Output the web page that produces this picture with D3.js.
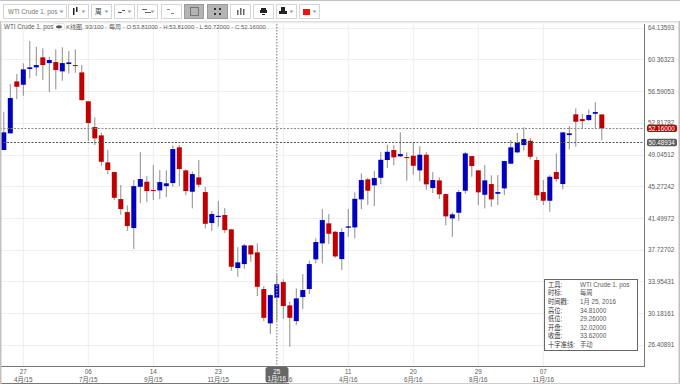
<!DOCTYPE html>
<html>
<head>
<meta charset="utf-8">
<script src="https://cdn.jsdelivr.net/npm/d3@7"></script>
<style>
  html, body { margin: 0; padding: 0; background: #fff; overflow: hidden; }
  text { font-family: "Liberation Sans", "Noto Sans CJK SC", sans-serif; }
</style>
</head>
<body>
<div id="chart"></div>
<script>
// weekly candles
const highs = [54.13,57.43,58.61,59.88,62.54,61.86,61.67,60.67,61.55,61.79,61.35,61.55,59.68,55.40,53.46,51.63,49.58,46.96,45.41,43.00,46.01,49.34,46.48,47.79,47.20,47.16,50.13,50.17,47.28,47.04,48.39,45.17,42.32,43.51,42.68,40.18,38.04,38.40,38.28,38.48,33.40,32.45,34.81,34.20,31.54,33.13,34.83,36.41,39.08,42.56,41.97,39.94,40.26,42.56,44.55,46.80,46.28,47.08,49.37,50.20,50.17,51.68,49.30,50.44,50.05,49.34,46.96,46.33,44.43,42.17,44.82,49.37,48.86,47.20,47.79,46.57,46.60,48.30,50.76,51.63,52.27,51.00,48.78,46.01,46.60,49.18,51.75,52.43,54.53,53.86,54.41,55.25,53.81];
const lows = [49.58,51.56,55.64,56.03,58.10,58.37,57.90,56.47,56.79,57.81,58.69,58.77,55.40,50.65,50.17,47.71,46.72,43.63,41.88,39.94,37.80,43.27,43.39,43.63,43.75,43.99,45.21,45.29,44.22,42.64,45.14,40.26,39.98,40.46,39.71,35.22,34.51,35.46,36.29,32.22,29.24,27.70,29.26,29.52,26.19,28.80,30.67,32.45,36.10,36.10,38.40,36.77,35.31,39.27,39.08,42.56,43.04,42.92,45.53,47.43,47.76,48.74,45.93,46.64,45.85,44.85,44.46,43.75,40.62,39.27,41.17,44.38,46.40,43.04,42.64,42.83,43.04,44.22,47.91,49.18,49.49,48.47,43.63,43.04,42.24,45.81,44.90,49.66,49.97,52.16,53.06,52.16,50.72];
const opens = [49.58,51.56,57.74,57.34,59.21,59.41,60.60,59.92,60.04,58.93,59.80,59.68,58.81,55.37,52.31,51.32,48.11,46.96,43.75,42.20,40.30,45.21,45.81,44.82,44.78,45.29,45.65,49.90,47.16,44.62,46.33,44.58,40.90,41.61,41.85,40.15,35.55,36.02,38.24,37.41,33.05,28.97,32.02,33.88,31.11,29.24,32.10,33.05,36.58,38.48,40.86,39.86,36.61,40.34,40.38,43.71,46.09,45.38,46.28,48.39,49.58,48.83,48.74,48.90,47.16,49.02,45.06,45.97,44.34,41.45,42.12,44.74,48.86,47.16,44.26,45.53,44.38,45.02,47.95,49.30,50.17,50.68,48.39,44.58,43.55,46.96,45.53,51.36,53.82,53.26,53.14,53.89,53.81];
const closes = [51.68,55.76,57.10,59.17,59.41,59.68,59.68,60.28,59.09,59.92,60.00,59.56,55.52,52.79,50.97,48.18,47.20,43.90,42.56,40.54,45.29,46.13,44.70,44.70,45.77,45.62,49.69,47.32,44.70,46.72,45.45,40.81,41.97,41.76,40.06,35.70,36.22,38.24,37.17,33.32,29.63,32.33,33.62,31.03,29.63,31.94,32.93,36.02,38.64,41.25,39.62,36.93,39.83,40.50,43.78,46.01,44.74,46.25,48.42,49.37,48.71,49.10,48.62,47.71,49.02,45.50,46.01,44.31,41.69,41.93,44.58,49.18,47.67,44.55,45.97,43.71,44.58,48.27,49.90,50.41,50.88,48.78,44.19,43.55,46.40,46.13,51.68,51.56,52.94,53.02,53.74,54.09,52.16];

const priceTicks = [64.13593,60.36323,56.59053,52.81782,49.04512,45.27242,41.49972,37.72702,33.95431,30.18161,26.40891];
const dateTicks = [3,13,23,33,43,53,63,73,83];
const dayLabels = ['27','06','14','23','01','11','20','29','07'];
const monthLabels = ['4月/15','7月/15','9月/15','11月/15','2月/16','4月/16','6月/16','8月/16','11月/16'];

const lastPrice = 52.16;
const crossPrice = 50.48934;
const crossIndex = 42;
const crossDay = '25';
const crossMonth = '1月/16';

const infoLabels = ['工具:','时标:','时间戳:','高位:','低位:','开盘:','收盘:','十字准线:'];
const infoValues = ['WTI Crude 1. pos','每周','1月 25, 2016','34.81000','29.26000','32.02000','33.62000','手动'];

const legendName = 'WTI Crude 1. pos';
const legendType = 'K线图, 93/100 - 每周 -';
const legendValues = 'O:53.81000 - H:53.81000 - L:50.72000 - C:52.16000';

const width = 680, height = 384;
const plotRight = 644, plotBottom = 367;
const labelSize = 6.3;
const colors = { up: '#0000bf', down: '#c00000', wick: '#8c8c8c', grid: '#eeeeee', axis: '#777777', text: '#5a5a5a' };

const svg = d3.select('#chart').append('svg')
  .attr('width', width)
  .attr('height', height)
  .style('display', 'block');

const x = d3.scaleLinear().domain([0, highs.length - 1]).range([3.8, 601.8]);
const y = d3.scaleLinear().domain([26.40891, 64.13593]).range([344.9, 27.6]);

// gridlines and axes
const yAxis = d3.axisRight(y).tickValues(priceTicks).tickSize(0).tickPadding(4).tickFormat(d3.format('.5f'));
const gy = svg.append('g').attr('transform', `translate(${plotRight},0)`).call(yAxis);
gy.select('.domain').remove();
gy.selectAll('text').attr('font-size', labelSize).attr('fill', colors.text).attr('font-family', null);

svg.append('g').selectAll('line').data(priceTicks).join('line')
  .attr('x1', 0).attr('x2', plotRight)
  .attr('y1', d => Math.round(y(d)) + 0.5).attr('y2', d => Math.round(y(d)) + 0.5)
  .attr('stroke', colors.grid);
svg.append('g').selectAll('line').data(dateTicks).join('line')
  .attr('x1', d => x(d)).attr('x2', d => x(d))
  .attr('y1', 22).attr('y2', plotBottom)
  .attr('stroke', colors.grid);

// date labels
const dates = svg.append('g').selectAll('g').data(dateTicks).join('g')
  .attr('transform', d => `translate(${x(d)},0)`);
dates.append('text').attr('y', 374).attr('text-anchor', 'middle').attr('font-size', labelSize).attr('fill', colors.text)
  .text((d, i) => dayLabels[i]);
dates.append('text').attr('y', 381.5).attr('text-anchor', 'middle').attr('font-size', labelSize).attr('fill', colors.text)
  .text((d, i) => monthLabels[i]);

// candles
const candles = svg.append('g').selectAll('g').data(highs.map((d, i) => i)).join('g');
candles.append('line')
  .attr('x1', i => x(i)).attr('x2', i => x(i))
  .attr('y1', i => y(highs[i])).attr('y2', i => y(lows[i]))
  .attr('stroke', colors.wick);
candles.append('rect')
  .attr('x', i => x(i) - 2.5)
  .attr('width', 5)
  .attr('y', i => y(Math.max(opens[i], closes[i])))
  .attr('height', i => Math.max(1, Math.abs(y(opens[i]) - y(closes[i]))))
  .attr('fill', i => closes[i] >= opens[i] ? colors.up : colors.down);

// price lines and crosshair
[lastPrice, crossPrice].forEach(p => {
  svg.append('line')
    .attr('x1', 0).attr('x2', plotRight)
    .attr('y1', Math.round(y(p)) + 0.5).attr('y2', Math.round(y(p)) + 0.5)
    .attr('stroke', p === lastPrice ? '#8a8a8a' : '#555555')
    .attr('stroke-dasharray', '2,1.5');
});
svg.append('line')
  .attr('x1', x(crossIndex)).attr('x2', x(crossIndex))
  .attr('y1', 21).attr('y2', plotBottom)
  .attr('stroke', '#9a9a9a').attr('stroke-width', 1.4).attr('stroke-dasharray', '1.5,1.5');

// axis frame
svg.append('line').attr('x1', plotRight + 0.5).attr('x2', plotRight + 0.5).attr('y1', 21).attr('y2', plotBottom).attr('stroke', colors.axis);
svg.append('line').attr('x1', 1).attr('x2', plotRight + 1).attr('y1', plotBottom - 0.5).attr('y2', plotBottom - 0.5).attr('stroke', colors.axis);
svg.append('line').attr('x1', 1).attr('x2', 289).attr('y1', 383.5).attr('y2', 383.5).attr('stroke', colors.axis);
svg.append('line').attr('x1', 289).attr('x2', 678).attr('y1', 383.5).attr('y2', 383.5).attr('stroke', '#cccccc');
svg.append('rect').attr('x', 0).attr('y', 0).attr('width', 1.5).attr('height', height).attr('fill', '#c4c0c0');
svg.append('rect').attr('x', 678.5).attr('y', 0).attr('width', 1.5).attr('height', height).attr('fill', '#c4c0c0');

// price badges
function priceBadge(p, fill) {
  const by = y(p);
  svg.append('rect').attr('x', 647).attr('y', by - 3.6).attr('width', 30).attr('height', 7.4).attr('rx', 2).attr('fill', fill);
  svg.append('text').attr('x', 648.5).attr('y', by + 2.3).attr('font-size', labelSize).attr('fill', '#fff').text(p.toFixed(5));
}
priceBadge(lastPrice, colors.down);
priceBadge(crossPrice, '#5c5c5c');

// date badge
svg.append('rect').attr('x', 265.5).attr('y', 367).attr('width', 23).attr('height', 15.5).attr('rx', 2.5).attr('fill', '#666666');
svg.append('text').attr('x', x(crossIndex)).attr('y', 374).attr('text-anchor', 'middle').attr('font-size', labelSize).attr('fill', '#fff').text(crossDay);
svg.append('text').attr('x', x(crossIndex)).attr('y', 381).attr('text-anchor', 'middle').attr('font-size', labelSize).attr('fill', '#fff').text(crossMonth);

// info box
svg.append('rect').attr('x', 544.5).attr('y', 279.5).attr('width', 93).attr('height', 71).attr('fill', '#fff').attr('stroke', '#666666');
const rowY = d3.scalePoint().domain(d3.range(infoLabels.length)).range([286.8, 347]);
infoLabels.forEach((label, i) => {
  svg.append('text').attr('x', 548).attr('y', rowY(i)).attr('font-size', labelSize).attr('fill', '#333').text(label);
  svg.append('text').attr('x', 580).attr('y', rowY(i)).attr('font-size', labelSize).attr('fill', colors.text).text(infoValues[i]);
});

// toolbar
const defs = svg.append('defs');
const fade = defs.append('linearGradient').attr('id', 'fade').attr('x1', 0).attr('x2', 0).attr('y1', 0).attr('y2', 1);
fade.append('stop').attr('offset', 0).attr('stop-color', '#d8d8d8');
fade.append('stop').attr('offset', 1).attr('stop-color', '#ffffff');
svg.append('rect').attr('x', 0).attr('y', 0).attr('width', width).attr('height', 21).attr('fill', '#fff');
svg.append('rect').attr('x', 0).attr('y', 0).attr('width', width).attr('height', 1).attr('fill', '#c4c0c0');
svg.append('rect').attr('x', 1).attr('y', 21).attr('width', 677).attr('height', 3).attr('fill', 'url(#fade)');

const buttonLefts = [3.5,68.5,91.5,114.5,137.5,161.5,184.5,207.5,230.5,253.5,276.5,299.5];
const buttonWidths = [63,20,20,20,20,20,19,20,20,20,20,20];
const pressed = [6, 7];
const arrowed = [0, 1, 2, 3, 4, 10, 11];
const buttons = svg.append('g').selectAll('g').data(buttonLefts).join('g')
  .attr('transform', d => `translate(${d},4.5)`);
buttons.append('rect')
  .attr('width', (d, i) => buttonWidths[i]).attr('height', 14)
  .attr('fill', (d, i) => pressed.includes(i) ? '#b4b4b4' : '#fff')
  .attr('stroke', (d, i) => pressed.includes(i) ? '#9a9a9a' : '#d4d4d4');
buttons.filter((d, i) => arrowed.includes(i)).append('path')
  .attr('transform', function(d) { return `translate(${buttonWidths[buttonLefts.indexOf(d)] - 5},6)`; })
  .attr('d', 'M-2,0 L2,0 L0,2.5 Z').attr('fill', '#999');

svg.append('text').attr('x', 8).attr('y', 14).attr('font-size', 6.3).attr('fill', '#777').text('WTI Crude 1. pos');
svg.append('text').attr('x', 95).attr('y', 14).attr('font-size', 6.6).attr('fill', '#333').text('周');

// toolbar icons, small and plain
const icon = (ix, iy, w, h, fill) => svg.append('rect').attr('x', ix).attr('y', iy).attr('width', w).attr('height', h).attr('fill', fill);
icon(73, 8, 1.5, 7, '#222'); icon(76, 7, 1.5, 5, '#222');
icon(118, 12, 4, 1, '#555'); icon(122, 10, 3, 1, '#555');
icon(142, 9, 5, 1, '#666'); icon(145, 12, 6, 1, '#666');
icon(167, 9, 3, 1, '#888'); icon(171, 13, 3, 1, '#888');
svg.append('rect').attr('x', 190.5).attr('y', 7.5).attr('width', 8).attr('height', 8).attr('fill', 'none').attr('stroke', '#777');
icon(214, 8, 2, 2, '#333'); icon(219, 8, 2, 2, '#333'); icon(214, 13, 2, 2, '#333'); icon(219, 13, 2, 2, '#333');
icon(237, 10, 1.5, 5, '#666'); icon(240, 8, 1.5, 7, '#666'); icon(243, 9, 1.5, 6, '#666');
icon(261, 8, 5, 2, '#222'); icon(260, 10, 7, 3, '#222'); icon(262, 14, 3, 1, '#222');
icon(281, 7, 4, 4, '#222'); icon(279, 11, 8, 3, '#222');
icon(303, 9, 7, 6, '#f01010');

// legend line, sits on top of the toolbar shadow
svg.append('text').attr('x', 4).attr('y', 29).attr('font-size', 6.3).attr('fill', colors.text).text(legendName);
svg.append('rect').attr('x', 53.5).attr('y', 23.5).attr('width', 11).attr('height', 6.5).attr('rx', 2).attr('fill', '#fff').attr('stroke', '#e4e4e4');
svg.append('ellipse').attr('cx', 59).attr('cy', 26.8).attr('rx', 3).attr('ry', 1.6).attr('fill', '#555');
svg.append('text').attr('x', 66).attr('y', 29).attr('font-size', 6).attr('fill', colors.text).text(legendType);
svg.append('text').attr('x', 126.5).attr('y', 29).attr('font-size', 6).attr('fill', colors.text).text(legendValues);
</script>
</body>
</html>
